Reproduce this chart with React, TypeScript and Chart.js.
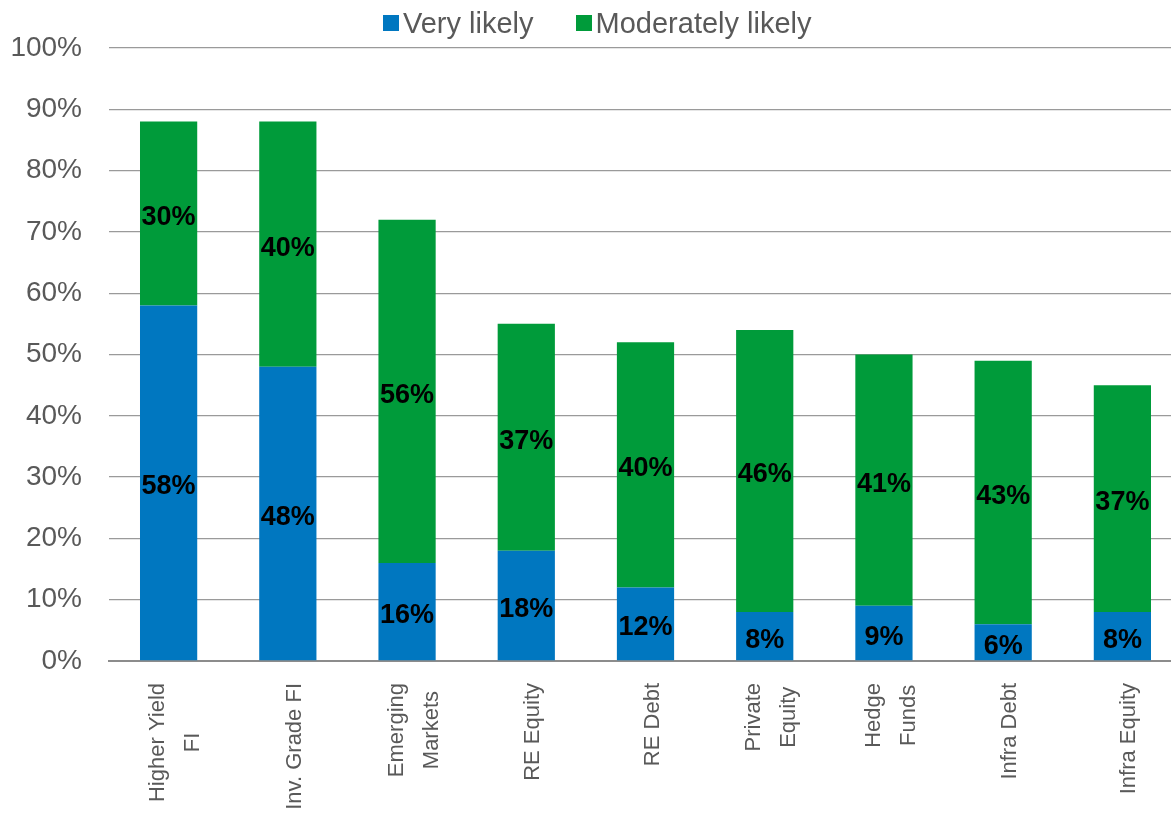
import React, { useEffect, useRef } from "react";
import { Chart, registerables } from "chart.js";

Chart.register(...registerables);

const categories: string[][] = [
  ["Higher Yield", "FI"],
  ["Inv. Grade FI"],
  ["Emerging", "Markets"],
  ["RE Equity"],
  ["RE Debt"],
  ["Private", "Equity"],
  ["Hedge", "Funds"],
  ["Infra Debt"],
  ["Infra Equity"],
];
const veryLikely = [58, 48, 16, 18, 12, 8, 9, 6, 8];
const moderatelyLikely = [30, 40, 56, 37, 40, 46, 41, 43, 37];
const seriesNames = ["Very likely", "Moderately likely"];
const yTicks = [0, 10, 20, 30, 40, 50, 60, 70, 80, 90, 100];

const BLUE = "#0077c0";
const GREEN = "#009b3a";
const TEXT_GREY = "#595959";
const FONT = "'Liberation Sans', Arial, sans-serif";

// Writes each stacked value in the middle of its segment
const segmentLabels = {
  id: "segmentLabels",
  afterDatasetsDraw(chart: Chart) {
    const ctx = chart.ctx;
    ctx.save();
    ctx.font = `bold 27px ${FONT}`;
    ctx.fillStyle = "#000";
    ctx.textAlign = "center";
    ctx.textBaseline = "middle";
    chart.data.datasets.forEach((ds, di) => {
      const meta = chart.getDatasetMeta(di);
      meta.data.forEach((el: any, i: number) => {
        const v = ds.data[i] as number;
        const { x, y, base } = el.getProps(["x", "y", "base"], true);
        ctx.fillText(`${v}%`, x, (y + base) / 2 + 4);
      });
    });
    ctx.restore();
  },
};

// Category names, rotated and centred line by line under each bar
const categoryLabels = {
  id: "categoryLabels",
  afterDraw(chart: Chart) {
    const ctx = chart.ctx;
    const xScale = chart.scales.x;
    const top = chart.chartArea.bottom + 22;
    const lineGap = 35;
    ctx.save();
    ctx.font = `22px ${FONT}`;
    ctx.fillStyle = TEXT_GREY;
    ctx.textBaseline = "middle";
    ctx.textAlign = "center";
    categories.forEach((lines, i) => {
      const cx = xScale.getPixelForValue(i) + 7;
      const widths = lines.map((l) => ctx.measureText(l).width);
      const maxW = Math.max(...widths);
      const n = lines.length;
      lines.forEach((line, li) => {
        const lx = cx + (li - (n - 1) / 2) * lineGap;
        const ly = top + maxW / 2;
        ctx.save();
        ctx.translate(lx, ly);
        ctx.rotate(-Math.PI / 2);
        ctx.fillText(line, 0, 0);
        ctx.restore();
      });
    });
    ctx.restore();
  },
};

export default function App() {
  const canvasRef = useRef<HTMLCanvasElement | null>(null);

  useEffect(() => {
    document.body.style.margin = "0";
    document.body.style.overflow = "hidden";
    const canvas = canvasRef.current;
    if (!canvas) return;
    const chart = new Chart(canvas, {
      type: "bar",
      data: {
        labels: categories.map((c) => c.join(" ")),
        datasets: [
          {
            label: seriesNames[0],
            data: veryLikely,
            backgroundColor: BLUE,
            borderWidth: 0,
          },
          {
            label: seriesNames[1],
            data: moderatelyLikely,
            backgroundColor: GREEN,
            borderWidth: 0,
          },
        ],
      },
      options: {
        animation: false,
        responsive: false,
        maintainAspectRatio: false,
        layout: { padding: { left: 10, right: 0, top: 48, bottom: 152 } },
        datasets: {
          bar: { categoryPercentage: 1, barPercentage: 0.48 },
        },
        plugins: {
          legend: { display: false },
          tooltip: { enabled: false },
        },
        scales: {
          x: {
            stacked: true,
            grid: { display: false, drawTicks: false },
            border: { display: true, color: "#8c8c8c", width: 2 },
            ticks: { display: false },
          },
          y: {
            stacked: true,
            min: 0,
            max: 100,
            afterBuildTicks: (axis: any) => {
              axis.ticks = yTicks.map((v) => ({ value: v }));
            },
            afterFit: (axis: any) => {
              axis.width = 99;
            },
            grid: { color: "#9a9a9a", lineWidth: 1.3, drawTicks: false },
            border: { display: false },
            ticks: {
              padding: 27,
              color: TEXT_GREY,
              font: { family: FONT, size: 28 },
              callback: (v: any) => `${v}%`,
            },
          },
        },
      },
      plugins: [segmentLabels, categoryLabels],
    });
    return () => chart.destroy();
  }, []);

  const legendItem = (name: string, color: string) => (
    <div style={{ display: "flex", alignItems: "center", marginRight: 42 }}>
      <span
        style={{
          display: "inline-block",
          width: 16,
          height: 16,
          background: color,
          marginRight: 4,
        }}
      />
      <span style={{ color: TEXT_GREY }}>{name}</span>
    </div>
  );

  return (
    <div
      style={{
        position: "fixed",
        left: 0,
        top: 0,
        width: 1171,
        height: 813,
        overflow: "hidden",
        background: "#fff",
      }}
    >
      <canvas
        ref={canvasRef}
        width={1182}
        height={813}
        style={{ display: "block", width: 1182, height: 813 }}
      />
      <div
        style={{
          position: "absolute",
          top: 5,
          left: 383,
          display: "flex",
          fontFamily: FONT,
          fontSize: 29,
          lineHeight: "36px",
        }}
      >
        {legendItem(seriesNames[0], BLUE)}
        {legendItem(seriesNames[1], GREEN)}
      </div>
    </div>
  );
}
